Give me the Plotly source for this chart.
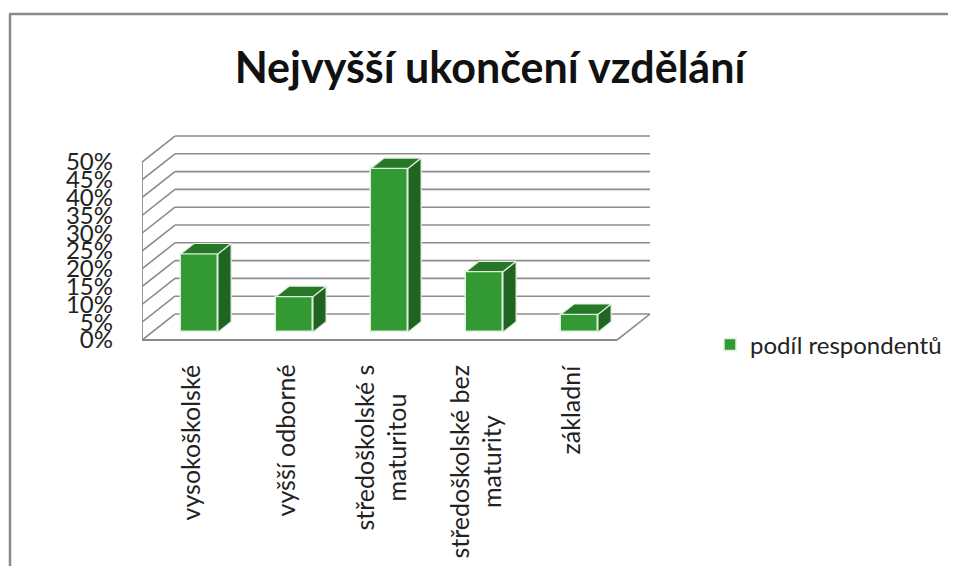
import plotly.graph_objects as go

# ---- data ----
categories = ["vysokoškolské", "vyšší odborné", "středoškolské s<br>maturitou",
              "středoškolské bez<br>maturity", "základní"]
values = [22, 10, 46, 17, 5]          # podíl respondentů (%)
y_ticks = [0, 5, 10, 15, 20, 25, 30, 35, 40, 45, 50]
y_ticklabels = [f"{t}%" for t in y_ticks]
series_name = "podíl respondentů"
title = "Nejvyšší ukončení vzdělání"

# ---- pseudo-3D geometry (oblique projection in data units) ----
DX, DY = 0.347, 7.3       # full depth offset (x units, % units)
F0, F1 = 0.30, 0.70       # bar depth span (fraction of full depth)
W = 0.195                 # half width of bar
XL, XR = -0.5, len(categories) - 0.5

OFF = 8                   # page body margin
W_PX, H_PX = 956 - 2 * OFF, 582 - 2 * OFF - 8
# plot area in page pixels, converted to figure pixels
L, R, T, B = 142 - OFF, 650 - OFF, 130 - OFF, 345 - OFF
PX_PER_PCT = 3.56
ZERO_PAGE = 340

FRONT = "#339933"
SIDE = "#1f6420"
TOP = "#267826"
EDGE = "#dff0df"
GRID = "#8c8c8c"

pw, ph = R - L, B - T
def px_x(p):
    return (p - OFF - L) / pw
def px_y(p):
    return (B - (p - OFF)) / ph

fig = go.Figure()
shapes = []
# gridlines (left wall + back wall)
for t in y_ticks:
    shapes.append(dict(type="line", xref="x", yref="y", x0=XL, y0=t, x1=XL + DX, y1=t + DY,
                       line=dict(color=GRID, width=1.6), layer="below"))
    shapes.append(dict(type="line", xref="x", yref="y", x0=XL + DX, y0=t + DY, x1=XR + DX, y1=t + DY,
                       line=dict(color=GRID, width=1.6), layer="below"))
# floor outline and front-left edge
shapes.append(dict(type="line", xref="x", yref="y", x0=XL, y0=0, x1=XR, y1=0,
                   line=dict(color=GRID, width=1.8), layer="below"))
shapes.append(dict(type="line", xref="x", yref="y", x0=XR, y0=0, x1=XR + DX, y1=DY,
                   line=dict(color=GRID, width=1.6), layer="below"))
shapes.append(dict(type="line", xref="x", yref="y", x0=XL, y0=0, x1=XL, y1=y_ticks[-1],
                   line=dict(color=GRID, width=1.8), layer="below"))
# outer chart border: only left and top edges are visible
shapes.append(dict(type="line", xref="paper", yref="paper",
                   x0=px_x(10), x1=px_x(10), y0=px_y(14), y1=px_y(600),
                   line=dict(color="#8a8a8a", width=2.5), layer="below"))
shapes.append(dict(type="line", xref="paper", yref="paper",
                   x0=px_x(9), x1=px_x(960), y0=px_y(14), y1=px_y(14),
                   line=dict(color="#8a8a8a", width=2.5), layer="below"))

# side and top faces
for i, v in enumerate(values):
    x0 = i + F0 * DX
    x1 = i + F1 * DX
    y0 = F0 * DY
    y1 = F1 * DY
    fig.add_trace(go.Scatter(
        x=[x0 + W, x1 + W, x1 + W, x0 + W, x0 + W],
        y=[y0, y1, y1 + v, y0 + v, y0],
        mode="lines", fill="toself", fillcolor=SIDE,
        line=dict(color=EDGE, width=1.2), hoverinfo="skip", showlegend=False))
    fig.add_trace(go.Scatter(
        x=[x0 - W, x0 + W, x1 + W, x1 - W, x0 - W],
        y=[y0 + v, y0 + v, y1 + v, y1 + v, y0 + v],
        mode="lines", fill="toself", fillcolor=TOP,
        line=dict(color=EDGE, width=1.2), hoverinfo="skip", showlegend=False))

# front faces
fig.add_trace(go.Bar(
    x=[i + F0 * DX for i in range(len(values))], y=values,
    base=[F0 * DY] * len(values), width=2 * W,
    marker=dict(color=FRONT, line=dict(color=EDGE, width=1.5)),
    name=series_name, showlegend=True))

font_family = "Lato, 'Open Sans', sans-serif"

# category labels (rotated, lines centred)
annotations = []
for i, c in enumerate(categories):
    annotations.append(dict(x=i, y=px_y(363), xref="x", yref="paper", text=c,
                            textangle=-90, showarrow=False, xanchor="center", yanchor="top",
                            align="center", font=dict(size=25, color="#222222", family=font_family)))

fig.update_layout(
    width=W_PX, height=H_PX,
    margin=dict(l=L, r=W_PX - R, t=T, b=H_PX - B, autoexpand=False),
    paper_bgcolor="white", plot_bgcolor="white",
    font=dict(family=font_family, color="#222222"),
    title=dict(text=f"<b>{title}</b>", x=(490 - OFF) / W_PX, xref="container", xanchor="center",
               y=1 - (68 - OFF) / H_PX, yref="container", yanchor="middle",
               font=dict(size=43, color="#111111", family=font_family)),
    xaxis=dict(range=[XL, XR + DX], tickvals=list(range(len(categories))),
               showticklabels=False, showgrid=False, zeroline=False,
               showline=False, ticks="", fixedrange=True),
    yaxis=dict(range=[(ZERO_PAGE - (B + OFF)) / PX_PER_PCT, (ZERO_PAGE - (T + OFF)) / PX_PER_PCT],
               tickvals=y_ticks, ticktext=y_ticklabels, showgrid=False, zeroline=False,
               showline=False, ticks="", tickfont=dict(size=24), ticklabelstandoff=28,
               fixedrange=True),
    showlegend=True,
    legend=dict(x=px_x(710), y=px_y(345), xanchor="left", yanchor="middle",
                font=dict(size=24), bgcolor="rgba(0,0,0,0)"),
    bargap=0,
    shapes=shapes,
    annotations=annotations,
)

fig.write_html("out.html")
